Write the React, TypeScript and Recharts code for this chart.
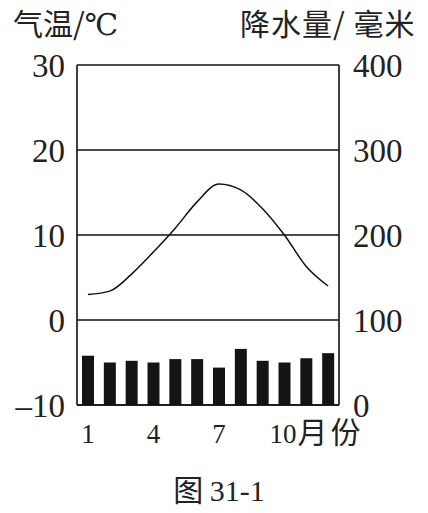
import React from "react";
import {
  ComposedChart,
  Bar,
  Line,
  XAxis,
  YAxis,
  CartesianGrid,
} from "recharts";

const months = [1, 2, 3, 4, 5, 6, 7, 8, 9, 10, 11, 12];
const temperature = [3, 3.4, 5.4, 8, 10.8, 13.9, 16, 15.3, 13.1, 10, 6.3, 4];
const precipitation = [58, 50, 52, 50, 54, 54, 44, 66, 52, 50, 55, 61];
const tempTicks = [-10, 0, 10, 20, 30];
const rainTicks = [0, 100, 200, 300, 400];
const shownMonths = [1, 4, 7, 10];

const data = months.map((m, i) => ({
  month: m,
  temp: temperature[i],
  rain: precipitation[i],
}));

const serif = "'Liberation Serif', 'DejaVu Serif', serif";
const cjk = "'Noto Sans CJK SC', sans-serif";
const ink = "#222";

function MonthTick(props: any) {
  const { x, y, payload } = props;
  const m = payload.value;
  if (!shownMonths.includes(m)) return null;
  if (m === 10) {
    return (
      <text x={x - 15} y={y + 30} fill={ink} fontFamily={serif} fontSize={27} textAnchor="start">
        10
        <tspan fontFamily={cjk} fontSize={30} dx={1} letterSpacing={3}>
          月份
        </tspan>
      </text>
    );
  }
  return (
    <text x={x} y={y + 30} fill={ink} fontFamily={serif} fontSize={27} textAnchor="middle">
      {m}
    </text>
  );
}

export default function App() {
  return (
    <div style={{ position: "relative", width: 428, height: 513, margin: -8, background: "#fff" }}>
      <ComposedChart
        width={428}
        height={513}
        data={data}
        margin={{ top: 65, right: 0, bottom: 0, left: 0 }}
      >
        <CartesianGrid yAxisId="t" vertical={false} stroke="#111" strokeWidth={1.6} />
        <XAxis
          dataKey="month"
          interval={0}
          tick={<MonthTick />}
          tickLine={false}
          axisLine={{ stroke: "#111", strokeWidth: 1.6 }}
          height={108}
        />
        <YAxis
          yAxisId="t"
          domain={[-10, 30]}
          ticks={tempTicks}
          width={77}
          tickLine={false}
          axisLine={{ stroke: "#111", strokeWidth: 1.6 }}
          tickFormatter={(v: number) => (v < 0 ? "\u2013" + Math.abs(v) : String(v))}
          tick={{ fill: ink, fontSize: 33, fontFamily: serif }}
          tickMargin={6}
        />
        <YAxis
          yAxisId="r"
          orientation="right"
          domain={[0, 400]}
          ticks={rainTicks}
          width={89}
          tickLine={false}
          axisLine={{ stroke: "#111", strokeWidth: 1.6 }}
          tick={{ fill: ink, fontSize: 33, fontFamily: serif }}
          tickMargin={8}
        />
        <Bar yAxisId="r" dataKey="rain" fill="#141414" barSize={12} isAnimationActive={false} />
        <Line
          yAxisId="t"
          type="monotone"
          dataKey="temp"
          stroke="#111"
          strokeWidth={1.5}
          dot={false}
          isAnimationActive={false}
        />
      </ComposedChart>
      <div style={{ position: "absolute", left: 13, top: 4, fontSize: 30, color: ink, fontFamily: cjk, lineHeight: "36px" }}>
        气温/<span style={{ fontFamily: serif }}>℃</span>
      </div>
      <div style={{ position: "absolute", left: 240, top: 4, fontSize: 30, color: ink, fontFamily: cjk, lineHeight: "36px", letterSpacing: 1 }}>
        降水量/ 毫米
      </div>
      <div style={{ position: "absolute", left: 0, width: 438, top: 472, textAlign: "center", fontSize: 30, color: ink, fontFamily: cjk, lineHeight: "32px" }}>
        图 <span style={{ fontFamily: serif }}>31-1</span>
      </div>
    </div>
  );
}
